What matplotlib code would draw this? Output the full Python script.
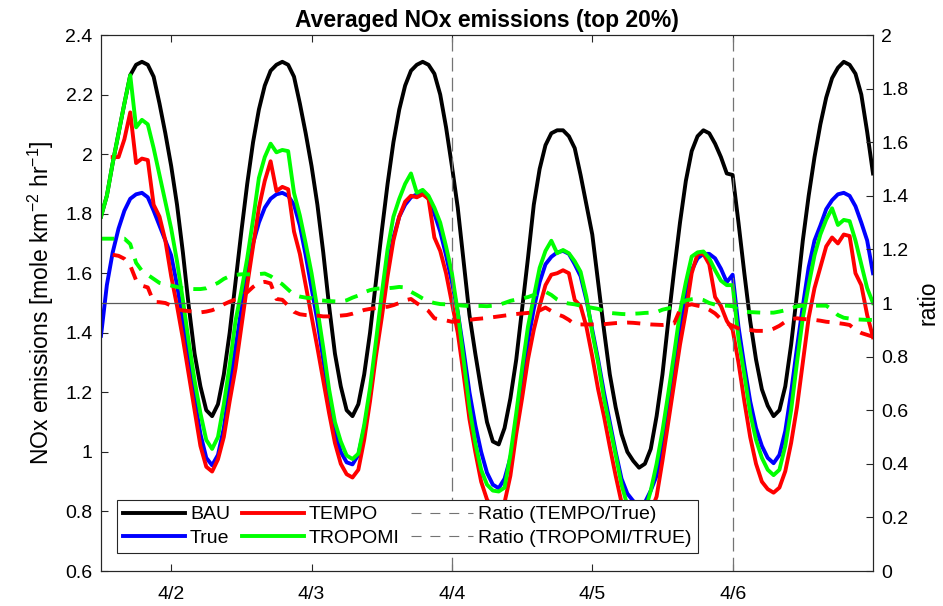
import numpy as np
import matplotlib
matplotlib.use('Agg')
from matplotlib import pyplot as plt
from matplotlib.lines import Line2D
from matplotlib.ticker import FormatStrFormatter

plt.rcParams['font.family'] = ['Liberation Sans', 'DejaVu Sans']
plt.rcParams['mathtext.fontset'] = 'custom'
plt.rcParams['mathtext.rm'] = 'Liberation Sans'
plt.rcParams['mathtext.it'] = 'Liberation Sans:italic'

nan = np.nan

# hourly values, 4/1 12:00 -> 4/7 00:00
bau = [
    1.79, 1.86, 1.97, 2.07, 2.17, 2.265, 2.30, 2.31, 2.30, 2.26, 2.17, 2.07,
    1.96, 1.83, 1.67, 1.49, 1.33, 1.22, 1.14, 1.12, 1.16, 1.26, 1.40, 1.57,
    1.74, 1.90, 2.04, 2.15, 2.23, 2.28, 2.30, 2.31, 2.30, 2.26, 2.17, 2.07,
    1.96, 1.83, 1.67, 1.49, 1.33, 1.22, 1.14, 1.12, 1.16, 1.26, 1.40, 1.57,
    1.74, 1.90, 2.04, 2.15, 2.23, 2.28, 2.30, 2.31, 2.30, 2.27, 2.20, 2.09,
    1.96, 1.82, 1.64, 1.46, 1.33, 1.21, 1.10, 1.035, 1.025, 1.08, 1.18, 1.31,
    1.48, 1.65, 1.83, 1.95, 2.03, 2.07, 2.08, 2.08, 2.06, 2.02, 1.93, 1.83,
    1.73, 1.57, 1.41, 1.26, 1.15, 1.06, 1.00, 0.97, 0.947, 0.96, 1.01, 1.12,
    1.26, 1.44, 1.61, 1.77, 1.91, 2.01, 2.06, 2.08, 2.07, 2.035, 1.99, 1.935,
    1.93, 1.77, 1.60, 1.44, 1.31, 1.21, 1.155, 1.12, 1.14, 1.22, 1.36, 1.53,
    1.71, 1.86, 1.99, 2.10, 2.19, 2.255, 2.29, 2.31, 2.30, 2.27, 2.20, 2.075,
    1.935,
]
true = [
    1.39, 1.56, 1.67, 1.75, 1.81, 1.85, 1.865, 1.87, 1.855, 1.81, 1.76, 1.71,
    1.66, 1.56, 1.44, 1.31, 1.18, 1.06, 0.98, 0.955, 0.99, 1.08, 1.22, 1.35,
    1.48, 1.60, 1.70, 1.77, 1.82, 1.85, 1.865, 1.87, 1.86, 1.83, 1.76, 1.66,
    1.55, 1.44, 1.31, 1.18, 1.07, 1.00, 0.965, 0.958, 0.99, 1.08, 1.19, 1.345,
    1.49, 1.62, 1.72, 1.79, 1.83, 1.855, 1.865, 1.87, 1.85, 1.80, 1.74, 1.66,
    1.57, 1.47, 1.34, 1.20, 1.09, 1.00, 0.93, 0.89, 0.878, 0.91, 0.98, 1.09,
    1.23, 1.37, 1.48, 1.57, 1.63, 1.655, 1.67, 1.675, 1.665, 1.63, 1.59, 1.51,
    1.41, 1.31, 1.20, 1.10, 1.00, 0.91, 0.86, 0.835, 0.822, 0.83, 0.87, 0.92,
    1.02, 1.15, 1.29, 1.42, 1.53, 1.61, 1.65, 1.665, 1.665, 1.65, 1.615, 1.57,
    1.595, 1.42, 1.29, 1.17, 1.08, 1.02, 0.98, 0.962, 0.99, 1.07, 1.20, 1.35,
    1.49, 1.62, 1.71, 1.76, 1.815, 1.845, 1.865, 1.87, 1.86, 1.825, 1.77, 1.71,
    1.60,
]
tempo = [
    nan, nan, 1.99, 1.99, 2.05, 2.14, 1.97, 1.985, 1.98, 1.83, 1.79, 1.71,
    1.59, 1.49, 1.38, 1.26, 1.14, 1.02, 0.95, 0.934, 0.975, 1.05, 1.17, 1.28,
    1.42, 1.56, 1.69, 1.82, 1.91, 1.976, 1.876, 1.89, 1.882, 1.74, 1.665, 1.56,
    1.455, 1.35, 1.24, 1.13, 1.03, 0.96, 0.925, 0.914, 0.94, 1.04, 1.17, 1.32,
    1.45, 1.59, 1.71, 1.79, 1.84, 1.86, 1.855, 1.865, 1.85, 1.72, 1.675, 1.60,
    1.50, 1.40, 1.26, 1.11, 1.00, 0.90, 0.84, 0.81, 0.80, 0.83, 0.92, 1.06,
    1.18, 1.31, 1.41, 1.49, 1.56, 1.595, 1.60, 1.61, 1.60, 1.51, 1.49, 1.42,
    1.32, 1.21, 1.12, 1.017, 0.92, 0.83, 0.77, 0.74, 0.73, 0.75, 0.80, 0.85,
    0.97, 1.10, 1.23, 1.36, 1.47, 1.60, 1.665, 1.665, 1.63, 1.52, 1.49, 1.44,
    1.41, 1.30, 1.17, 1.05, 0.96, 0.90, 0.875, 0.863, 0.88, 0.935, 1.03, 1.15,
    1.30, 1.45, 1.55, 1.62, 1.69, 1.72, 1.70, 1.73, 1.725, 1.60, 1.56, 1.46,
    1.385,
]
tropomi = [
    1.79, 1.86, 1.97, 2.07, 2.17, 2.265, 2.09, 2.115, 2.10, 2.02, 1.93, 1.84,
    1.75, 1.64, 1.51, 1.37, 1.24, 1.13, 1.04, 1.01, 1.05, 1.16, 1.29, 1.44,
    1.54, 1.65, 1.78, 1.92, 1.99, 2.035, 2.006, 2.014, 2.01, 1.87, 1.794, 1.70,
    1.60, 1.48, 1.35, 1.21, 1.10, 1.035, 0.988, 0.976, 0.994, 1.09, 1.215, 1.37,
    1.53, 1.68, 1.79, 1.85, 1.90, 1.935, 1.87, 1.88, 1.86, 1.82, 1.77, 1.69,
    1.60, 1.47, 1.31, 1.15, 1.03, 0.94, 0.89, 0.87, 0.867, 0.88, 0.99, 1.13,
    1.28, 1.42, 1.52, 1.618, 1.675, 1.709, 1.667, 1.678, 1.667, 1.64, 1.605, 1.52,
    1.40, 1.30, 1.18, 1.085, 0.99, 0.89, 0.82, 0.79, 0.78, 0.80, 0.87, 0.96,
    1.07, 1.197, 1.33, 1.47, 1.57, 1.656, 1.67, 1.673, 1.65, 1.61, 1.575, 1.56,
    1.56, 1.38, 1.26, 1.13, 1.04, 0.98, 0.94, 0.922, 0.94, 1.02, 1.14, 1.30,
    1.45, 1.56, 1.66, 1.73, 1.78, 1.818, 1.762, 1.779, 1.775, 1.71, 1.63, 1.55,
    1.50,
]
ratio_tempo = [
    nan, nan, 1.18, 1.176, 1.165, 1.14, 1.085, 1.065, 1.058, 1.004, 1.003, 1.0,
    0.99, 0.977, 0.972, 0.97, 0.967, 0.965, 0.968, 0.973, 0.982, 0.995, 1.005, 1.013,
    1.025, 1.04, 1.06, 1.075, 1.079, 1.073, 1.015, 1.012, 0.99, 0.967, 0.958, 0.955,
    0.954, 0.953, 0.95, 0.95, 0.951, 0.953, 0.955, 0.96, 0.967, 0.974, 0.978, 0.981,
    0.984, 0.986, 0.992, 1.0, 1.01, 1.015, 0.999, 0.985, 0.97, 0.943, 0.938, 0.935,
    0.93, 0.932, 0.935, 0.937, 0.94, 0.942, 0.944, 0.947, 0.95, 0.953, 0.956, 0.959,
    0.961, 0.963, 0.965, 0.972, 0.983, 0.97, 0.958, 0.95, 0.937, 0.92, 0.92, 0.92,
    0.92, 0.92, 0.921, 0.923, 0.925, 0.926, 0.927, 0.926, 0.924, 0.922, 0.92, 0.919,
    0.918, 0.92, 0.924, 0.975, 0.99, 0.995, 0.99, 0.986, 0.975, 0.961, 0.94, 0.925,
    0.915, 0.905, 0.902, 0.899, 0.896, 0.896, 0.896, 0.904, 0.915, 0.93, 0.94, 0.943,
    0.94, 0.939, 0.937, 0.934, 0.93, 0.928, 0.925, 0.922, 0.918, 0.90, 0.888, 0.881,
    0.874,
]
ratio_tropomi = [
    1.24, 1.24, 1.24, 1.24, 1.24, 1.22, 1.15, 1.12, 1.105, 1.09, 1.075, 1.07,
    1.065, 1.06, 1.055, 1.053, 1.052, 1.052, 1.055, 1.065, 1.075, 1.09, 1.10, 1.105,
    1.107, 1.107, 1.106, 1.108, 1.11, 1.10, 1.085, 1.07, 1.05, 1.03, 1.024, 1.02,
    1.018, 1.011, 1.009, 1.007, 1.006, 1.005, 1.01, 1.02, 1.028, 1.04, 1.048, 1.053,
    1.055, 1.055, 1.057, 1.06, 1.058, 1.042, 1.03, 1.017, 1.006, 1.0, 0.996, 0.995,
    0.993, 0.992, 0.99, 0.989, 0.989, 0.989, 0.988, 0.99, 0.993, 1.0, 1.008, 1.013,
    1.017, 1.022, 1.03, 1.038, 1.042, 1.03, 1.013, 1.002, 0.998, 0.995, 0.99, 0.986,
    0.982, 0.978, 0.97, 0.963, 0.961, 0.959, 0.958, 0.96, 0.961, 0.963, 0.964, 0.966,
    0.975, 0.98, 0.988, 0.998, 1.01, 1.014, 1.016, 1.011, 1.0, 0.994, 0.99, 0.99,
    0.988, 0.975, 0.968, 0.966, 0.965, 0.964, 0.964, 0.964, 0.968, 0.973, 0.98, 0.988,
    0.99, 0.99, 0.99, 0.99, 0.99, 0.975, 0.955, 0.945, 0.942, 0.939, 0.938, 0.937,
    0.937,
]

day_ticks = ['2023-04-02', '2023-04-03', '2023-04-04', '2023-04-05', '2023-04-06']
tick_labels = ['4/2', '4/3', '4/4', '4/5', '4/6']
marked_days = ['2023-04-04', '2023-04-06']

time = np.datetime64('2023-04-01T12:00') + np.arange(len(bau)) * np.timedelta64(1, 'h')
ticks = np.array(day_ticks, dtype='datetime64[m]')

fig = plt.figure(figsize=(9.43, 6.06), dpi=100)
ax1 = fig.add_axes([101/943, (606-571)/606, 772/943, 536/606])

lw = 2.8
ax1.plot(time, bau, color='k', lw=lw)
ax1.plot(time, true, color='b', lw=lw)
ax1.plot(time, tempo, color='r', lw=lw)
ax1.plot(time, tropomi, color=(0, 1, 0), lw=lw)
for d in marked_days:
    ax1.axvline(np.datetime64(d), color='0.45', lw=0.9, dashes=(11, 5))

ax2 = ax1.twinx()
ax2.axhline(1, color='0.35', lw=0.9)
ax2.plot(time, ratio_tempo, color='r', lw=lw, dashes=(3.4, 2.6))
ax2.plot(time, ratio_tropomi, color=(0, 1, 0), lw=lw, dashes=(3.4, 2.6))

ax1.set_xlim(time[0], time[-1])
ax1.set_ylim(0.6, 2.4)
ax2.set_ylim(0, 2)
ax1.set_xticks(ticks)
ax1.set_xticklabels(tick_labels)
ax1.set_yticks(np.arange(0.6, 2.41, 0.2))
ax2.set_yticks(np.arange(0, 2.01, 0.2))
ax1.yaxis.set_major_formatter(FormatStrFormatter('%g'))
ax2.yaxis.set_major_formatter(FormatStrFormatter('%g'))

fs = 14
ax1.tick_params(axis='both', direction='in', length=5, width=0.8, labelsize=fs,
                colors='0.15', labelcolor='k')
ax1.tick_params(axis='x', top=True, pad=11)
ax1.tick_params(axis='y', pad=6)
ax2.tick_params(axis='y', direction='in', length=5, width=0.8, labelsize=fs,
                colors='0.15', labelcolor='k', pad=6)
for ax in (ax1, ax2):
    for s in ax.spines.values():
        s.set_color('0.15')
        s.set_linewidth(0.8)

ax1.set_ylabel('NOx emissions [mole km$^{-2}$ hr$^{-1}$]', fontsize=16.5, labelpad=7)
ax2.set_ylabel('ratio', fontsize=16.5, labelpad=6)
ax1.set_title('Averaged NOx emissions (top 20%)', fontsize=16.5, fontweight='bold', pad=6)

handles = [
    Line2D([], [], color='k', lw=lw),
    Line2D([], [], color='b', lw=lw),
    Line2D([], [], color='r', lw=lw),
    Line2D([], [], color=(0, 1, 0), lw=lw),
    Line2D([], [], color='0.45', lw=0.8, dashes=(9, 8)),
    Line2D([], [], color='0.45', lw=0.8, dashes=(9, 8)),
]
labels = ['BAU', 'True', 'TEMPO', 'TROPOMI', 'Ratio (TEMPO/True)', 'Ratio (TROPOMI/TRUE)']
leg = ax2.legend(handles, labels, ncol=3, loc='lower left', bbox_to_anchor=(0.0207, 0.0336),
                 borderaxespad=0, fontsize=fs, frameon=True, fancybox=False,
                 handlelength=3.2, handletextpad=0.25, columnspacing=0.6,
                 labelspacing=0.32, borderpad=0.3)
leg.get_frame().set_edgecolor('0.15')
leg.get_frame().set_linewidth(0.8)
leg.get_frame().set_alpha(1)

fig.savefig('out.png', dpi=100)
